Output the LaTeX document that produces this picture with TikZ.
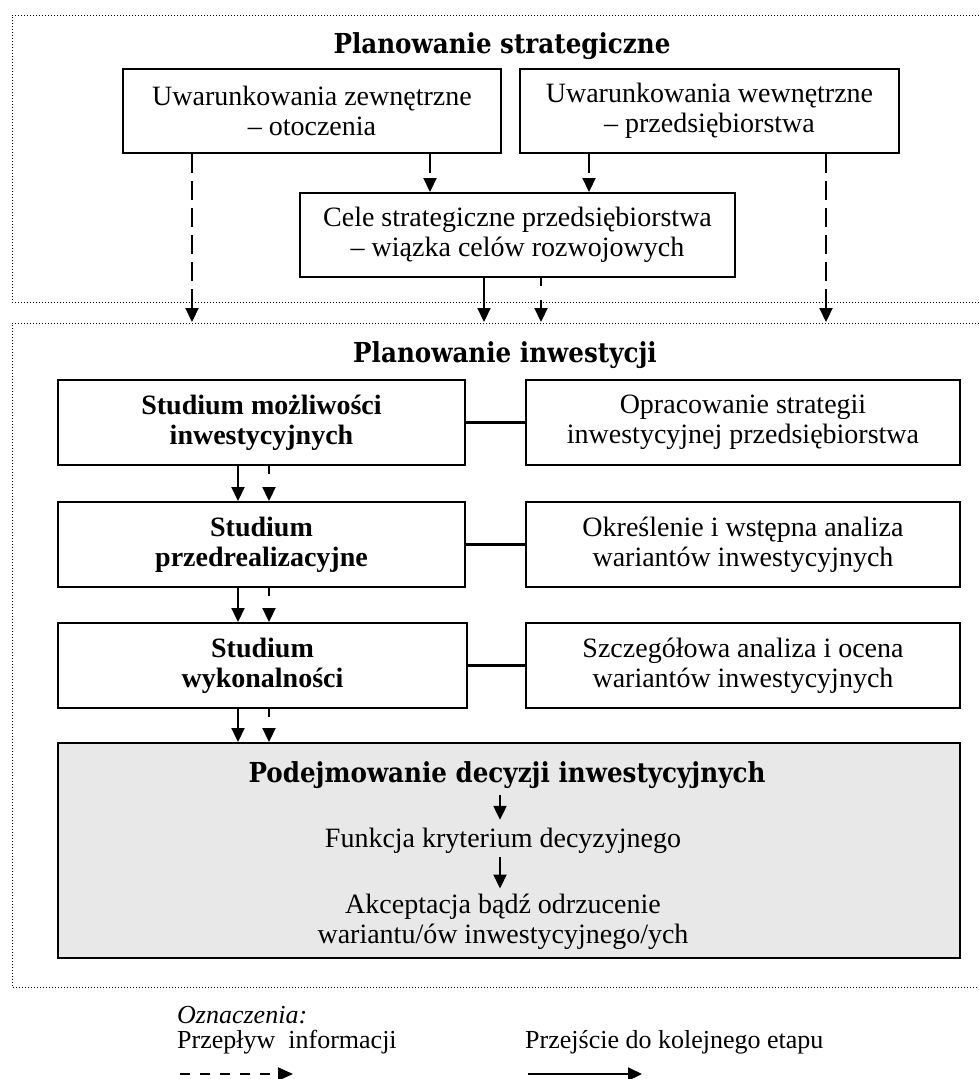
\documentclass[tikz,border=0pt]{standalone}
\usepackage{fontspec}
\setmainfont{Liberation Serif}
\newfontfamily\titlefont{DejaVu Serif}[FakeStretch=0.895]
\usetikzlibrary{arrows.meta}
\definecolor{boxgray}{HTML}{E8E8E8}
\tikzset{
  framebox/.style={draw, line width=2pt, inner sep=0pt, align=center,
    minimum height=85pt, font=\fontsize{28}{30}\selectfont},
  studbox/.style={framebox, font=\fontsize{28}{30}\selectfont\bfseries},
  graybox/.style={framebox, fill=boxgray},
  frameline/.style={line width=1pt, dash pattern=on 1pt off 2pt},
  solidarr/.style={line width=2.2pt, -{Triangle[length=14pt,width=13pt]}},
  longdash/.style={solidarr, dash pattern=on 19pt off 8pt},
  shortdash/.style={solidarr, dash pattern=on 8pt off 14pt},
  legdash/.style={line width=2pt, dash pattern=on 10pt off 10pt, -{Triangle[length=15pt,width=13pt]}},
  conn/.style={line width=2.6pt},
  titletext/.style={font=\titlefont\bfseries\fontsize{27.5}{30}\selectfont, inner sep=0pt, anchor=base},
  gtext/.style={font=\fontsize{28}{30}\selectfont, inner sep=0pt, align=center},
  legtext/.style={font=\fontsize{26}{28}\selectfont, inner sep=0pt, anchor=base west},
}
\begin{document}
\begin{tikzpicture}[x=1pt, y=-1pt]
\useasboundingbox (0,0) rectangle (979,1079);

% frames
\draw[frameline] (979,15) -- (12,15) -- (12,302) -- (979,302);
\draw[frameline] (979,323) -- (12,323) -- (12,987) -- (979,987);

% strategic planning
\node[titletext] (t1) at (502,53) {Planowanie strategiczne};
\node[framebox, minimum width=378pt, minimum height=84pt] (A) at (312,111)
  {Uwarunkowania zewnętrzne\\– otoczenia};
\node[framebox, minimum width=379pt, minimum height=84pt] (B) at (709.5,111)
  {Uwarunkowania wewnętrzne\\– przedsiębiorstwa};
\node[framebox, minimum width=435pt, minimum height=84pt] (C) at (517.5,235)
  {Cele strategiczne przedsiębiorstwa\\– wiązka celów rozwojowych};

\coordinate (xa) at (192,322);
\coordinate (xd) at (826,322);
\coordinate (xe) at (484,322);
\coordinate (xf) at (541,322);
\coordinate (xb) at (430,0);
\coordinate (xc) at (589,0);
\draw[longdash] (A.south -| xa) -- (xa);
\draw[longdash] (A.south -| xb) -- (C.north -| xb);
\draw[longdash] (B.south -| xc) -- (C.north -| xc);
\draw[longdash] (B.south -| xd) -- (xd);
\draw[solidarr] (C.south -| xe) -- (xe);
\draw[shortdash] (C.south -| xf) -- (xf);

% investment planning
\node[titletext] (t2) at (505,362) {Planowanie inwestycji};
\node[studbox, minimum width=407pt] (S1) at (261.5,422.5) {Studium możliwości\\inwestycyjnych};
\node[framebox, minimum width=434pt] (R1) at (743,422.5) {Opracowanie strategii\\inwestycyjnej przedsiębiorstwa};
\node[studbox, minimum width=407pt] (S2) at (261.5,544.5) {Studium\\przedrealizacyjne};
\node[framebox, minimum width=434pt] (R2) at (743,544.5) {Określenie i wstępna analiza\\wariantów inwestycyjnych};
\node[studbox, minimum width=409pt] (S3) at (262.5,665.5) {Studium\\wykonalności};
\node[framebox, minimum width=434pt] (R3) at (743,665.5) {Szczegółowa analiza i ocena\\wariantów inwestycyjnych};
\node[graybox, minimum width=902pt, minimum height=215pt] (G) at (509,850.5) {};

\draw[conn] (S1) -- (R1);
\draw[conn] (S2) -- (R2);
\draw[conn] (S3) -- (R3);

\coordinate (s1) at (238,0);
\coordinate (s2) at (269,0);
\draw[solidarr] (S1.south -| s1) -- (S2.north -| s1);
\draw[shortdash] (S1.south -| s2) -- (S2.north -| s2);
\draw[solidarr] (S2.south -| s1) -- (S3.north -| s1);
\draw[shortdash] (S2.south -| s2) -- (S3.north -| s2);
\draw[solidarr] (S3.south -| s1) -- (G.north -| s1);
\draw[shortdash] (S3.south -| s2) -- (G.north -| s2);

% decision box contents
\node[titletext, text height=20pt, text depth=6pt] (gt) at (507,782) {Podejmowanie decyzji inwestycyjnych};
\node[gtext, anchor=base, text height=20pt, text depth=6pt] (gf) at (503,847) {Funkcja kryterium decyzyjnego};
\node[gtext, anchor=north] (ga) at (503,893.5) {Akceptacja bądź odrzucenie\\wariantu/ów inwestycyjnego/ych};
\coordinate (gx) at (500,0);
\draw[solidarr, shorten <=7pt, shorten >=7pt] (gt.south -| gx) -- (gf.north -| gx);
\draw[solidarr, shorten <=4pt, shorten >=5pt] (gf.south -| gx) -- (ga.north -| gx);

% legend
\node[legtext] (o1) at (177,1023) {\itshape Oznaczenia:};
\node[legtext] (o2) at (177,1048) {Przepływ\ \ informacji};
\node[legtext] (o3) at (525,1048) {Przejście do kolejnego etapu};
\coordinate (l1) at (180,1074);
\coordinate (l2) at (293,1074);
\coordinate (l3) at (528,1074);
\coordinate (l4) at (642,1074);
\draw[legdash] (l1) -- (l2);
\draw[solidarr] (l3) -- (l4);
\end{tikzpicture}
\end{document}
